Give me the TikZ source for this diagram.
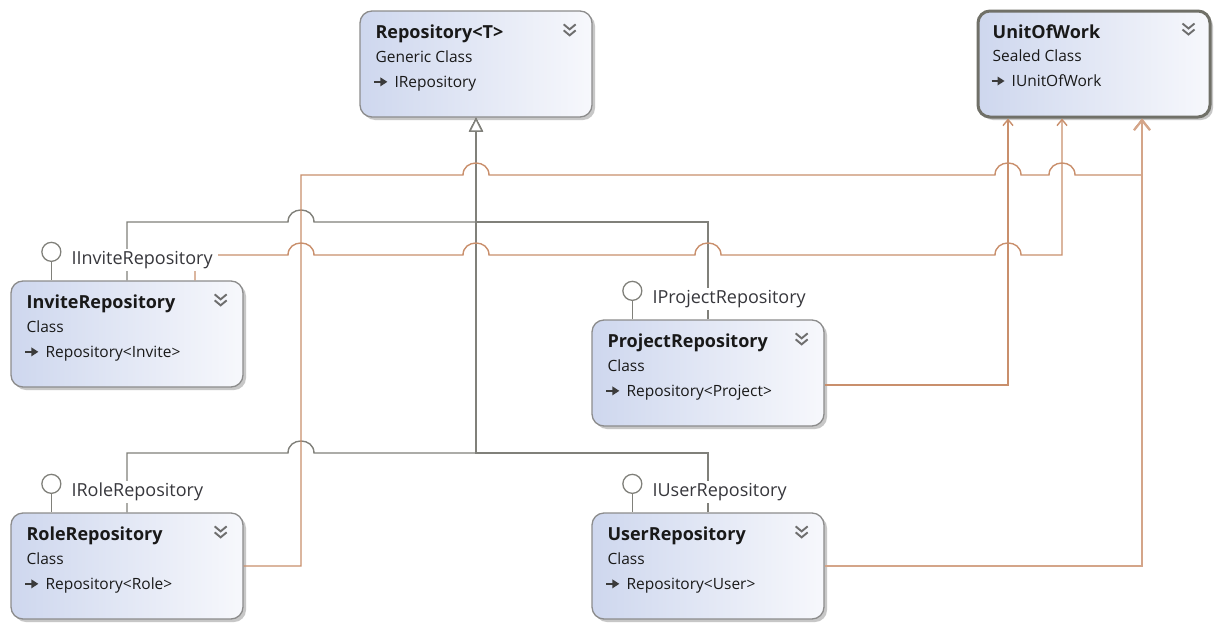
\documentclass[tikz,border=0pt]{standalone}
\usepackage{fontspec}
\setmainfont{Open Sans}
\usetikzlibrary{arrows.meta,shadows,calc}

\definecolor{depline}{RGB}{201,143,108}
\definecolor{genline}{RGB}{128,128,122}
\definecolor{boxedge}{RGB}{140,140,140}
\definecolor{seledge}{RGB}{112,112,104}
\definecolor{boxleft}{RGB}{206,215,238}
\definecolor{boxright}{RGB}{247,248,252}
\definecolor{textdark}{RGB}{25,25,25}
\definecolor{labeldark}{RGB}{55,55,60}
\definecolor{chevgray}{RGB}{110,110,110}

\tikzset{
  classbox/.style={rectangle, rounded corners=12pt, draw=boxedge, line width=1.3pt,
    left color=boxleft, right color=boxright,
    minimum width=232pt, minimum height=106pt, inner sep=0pt,
    drop shadow={shadow xshift=3pt, shadow yshift=-3pt, opacity=0.4, fill=black!55}},
  selected/.style={draw=seledge, line width=3pt},
  ctitle/.style={anchor=base west, inner sep=0pt, text=textdark,
    font=\fontsize{18}{20}\selectfont\bfseries},
  csub/.style={anchor=base west, inner sep=0pt, text=textdark,
    font=\fontsize{15.5}{18}\selectfont},
  iface/.style={anchor=base west, fill=white, inner xsep=5pt, inner ysep=2pt,
    text=labeldark, font=\fontsize{18}{20}\selectfont},
  lolli/.style={circle, draw=genline, line width=1.3pt, fill=white,
    minimum size=19pt, inner sep=0pt},
  stem/.style={draw=genline, line width=1.3pt},
  gen/.style={draw=genline, line width=1.4pt,
    -{Triangle[open, length=14pt, width=14pt, fill=white]}},
  dep/.style={draw=depline, line width=1.4pt,
    -{Straight Barb[length=6pt, width=10pt]}},
  deptrunk/.style={draw=depline!80, line width=2.2pt,
    -{Straight Barb[length=10pt, width=16pt]}},
  hop/.style={insert path={.. controls +(0,-16) and +(0,-16) .. ++(26,0)}},
  inh/.pic={
    \draw[textdark!85, line width=1.7pt] (0,0) -- (7,0);
    \fill[textdark!85] (6,-4.5) -- (13,0) -- (6,4.5) -- cycle;},
  chev/.pic={
    \draw[chevgray, line width=1.9pt]
      (-6,-6) -- (0,-1) -- (6,-6) (-6,0) -- (0,5) -- (6,0);},
}

% a class box with its name, kind, base type and collapse chevron
\newcommand\umlclass[6][]{%
  \node[classbox,#1] (#2) at (#3) {};
  \node[ctitle] (#2-name) at ($(#2.north west)+(16,28.5)$) {#4};
  \node[csub] (#2-kind) at ($(#2.north west)+(16,52)$) {#5};
  \pic at ($(#2.north west)+(15,71.5)$) {inh};
  \node[csub] (#2-base) at ($(#2.north west)+(35,77)$) {#6};
  \pic at ($(#2.north east)+(-23,20)$) {chev};
}

% an implemented interface drawn as a lollipop above a class box
\newcommand\lollipop[3]{%
  \node[lolli] (#2) at ($(#1.north west)+(41,-28.5)$) {};
  \draw[stem] (#2.south) -- (#1.north west -| #2);
  \node[iface] (#2-label) at ($(#1.north west)+(56,-16)$) {#3};
}

\begin{document}
\begin{tikzpicture}[x=1pt, y=-1pt]
\fill[white] (0,0) rectangle (1216,624);
\useasboundingbox (0,0) rectangle (1216,624);

% classes
\umlclass{repo}{476,64}{Repository<T>}{Generic Class}{IRepository}
\umlclass[selected]{uow}{1094,64}{UnitOfWork}{Sealed Class}{IUnitOfWork}
\umlclass{invite}{127,334}{InviteRepository}{Class}{Repository<Invite>}
\umlclass{proj}{708,373}{ProjectRepository}{Class}{Repository<Project>}
\umlclass{role}{127,566}{RoleRepository}{Class}{Repository<Role>}
\umlclass{user}{708,566}{UserRepository}{Class}{Repository<User>}

% inheritance from Repository<T>
\draw[gen] (invite.north) -- (127,222) -- (288,222) [hop] -- (476,222) -- (repo.south);
\draw[gen] (proj.north) -- (708,222) -- (476,222) -- (repo.south);
\draw[gen] (role.north) -- (127,453) -- (288,453) [hop] -- (476,453) -- (repo.south);
\draw[gen] (user.north) -- (708,453) -- (476,453) -- (repo.south);

% associations to UnitOfWork
\draw[dep] ([xshift=68pt]invite.north) -- (195,255) -- (288,255) [hop]
  -- (463,255) [hop] -- (695,255) [hop] -- (995,255) [hop] -- (1062,255)
  -- ([xshift=-32pt]uow.south);
\draw[dep] ([yshift=-12pt]proj.east) -- (1008,385) -- ([xshift=-86pt]uow.south);
\draw[dep, -{Straight Barb[length=10pt, width=16pt]}] (role.east) -- (301,566)
  -- (301,175) -- (463,175) [hop] -- (995,175) [hop] -- (1049,175) [hop]
  -- (1142,175) -- ([xshift=48pt]uow.south);
\draw[deptrunk] (user.east) -- (1142,566) -- ([xshift=48pt]uow.south);

% interfaces
\lollipop{invite}{iinvite}{IInviteRepository}
\lollipop{proj}{iproj}{IProjectRepository}
\lollipop{role}{irole}{IRoleRepository}
\lollipop{user}{iuser}{IUserRepository}
\end{tikzpicture}
\end{document}
